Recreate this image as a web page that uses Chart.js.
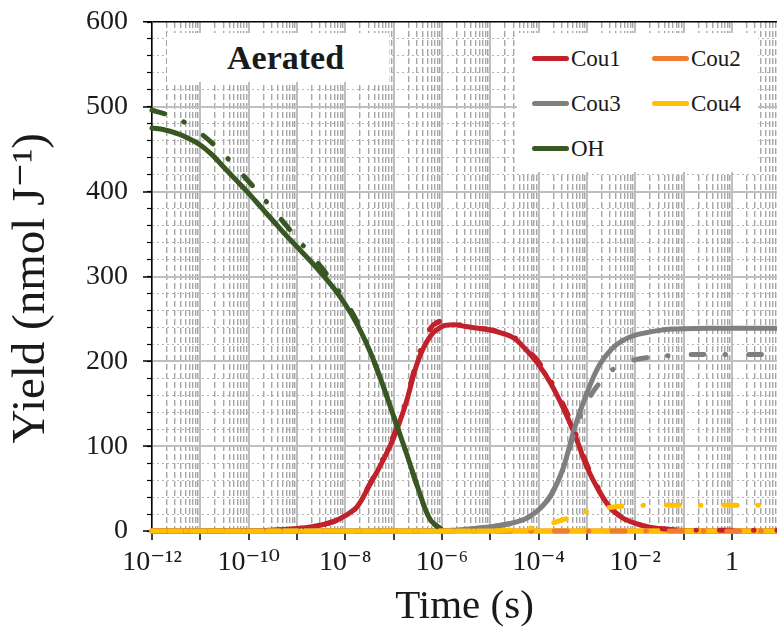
<!DOCTYPE html>
<html>
<head>
<meta charset="utf-8">
<script src="https://cdn.jsdelivr.net/npm/chart.js@4.4.1/dist/chart.umd.min.js"></script>
<style>
  html, body { margin: 0; padding: 0; background: #fff; }
  #wrap { position: relative; width: 777px; height: 634px; overflow: hidden; }
  #c { position: absolute; left: 0; top: 0; }
  .box { position: absolute; background: #fff; }
  #tag { left: 167px; top: 33px; width: 222px; height: 49px; }
  #tagText { position: absolute; left: 60px; top: 8px; font: bold 34px 'Liberation Serif', 'Times New Roman', serif; line-height: 34px; color: #1a1a1a; white-space: nowrap; }
  #legend { left: 517px; top: 33px; width: 241px; height: 139px; }
  .lg-line { position: absolute; height: 5px; width: 37px; border-radius: 3px; }
  .lg-text { position: absolute; font: 23px 'Liberation Serif', 'Times New Roman', serif; line-height: 23px; color: #1a1a1a; white-space: nowrap; }
</style>
</head>
<body>
<div id="wrap">
  <canvas id="c" width="777" height="634"></canvas>
  <div id="tag" class="box"><span id="tagText">Aerated</span></div>
  <div id="legend" class="box"></div>
</div>
<script>
// ---------------- data (time as log10 of seconds) ----------------
const ohTimeExp = [-12,-11.75,-11.5,-11.25,-11,-10.75,-10.5,-10.25,-10,-9.75,-9.5,-9.25,-9,-8.75,-8.5,-8.25,-8,-7.75,-7.5,-7.25,-7,-6.75,-6.5,-6.25,-6];
const ohSolid   = [475,473,469,463,455,443,428,413,398,382,366,350,335,320,304,287,267,243,213,176,135,94,51,14,1];
const ohDash    = [496,492,487,479,469,457,443,428,412,396,379,362,345,328,311,292,271,246,213,176,135,94,51,14,1];

const couTimeExp = [-12,-11,-10,-9.5,-9,-8.75,-8.5,-8.25,-8,-7.75,-7.5,-7.25,-7,-6.75,-6.5,-6.25,-6,-5.75,-5.5,-5.25,-5,-4.75,-4.5,-4.25,-4,-3.75,-3.5,-3.25,-3,-2.75,-2.5,-2.25,-2,-1.75,-1.5,-1.25,-1,-0.5,0,0.93];
const cou1Solid = [0,0,0.5,1,3, 4.5,7,11,18,29, 54,80,110,150,200, 229,241,243,241,239, 237,233,227,213,196, 174,146,113,75,47, 26,15,9,5,3, 1.5,0.5,0,0,0];
const cou1Dash  = [0,0,0.5,1,3, 4.5,7,11,18,29, 55,82,113,153,204, 238,248,245,241,239, 237,234,228,215,199, 177,150,117,78,49, 27,15,9,5,3, 1.5,1,0.8,0.8,0.8];
const cou3Solid = [0,0,0,0,0, 0,0,0,0,0, 0,0,0,0,0, 0.3,0.5,1,2,3.5, 5,7,10,15,25, 42,73,123,163,195, 214,225,231,234,236.5, 238,238.5,239,239,239];
const cou3Dash  = [0,0,0,0,0, 0,0,0,0,0, 0,0,0,0,0, 0.3,0.5,1,2,3.5, 5,7,10,15,25, 42,72,118,152,174, 189,197,202,204.5,206, 207,208,208,208,208];
const cou4Dash  = [0,0,0,0,0, 0,0,0,0,0, 0,0,0,0,0, 0,0,0,0,0, 0,0.5,1.5,3,5, 9,13,18,23,26, 28,29.5,30,30.3,30.5, 30.5,30.5,30.5,30.5,30.5];

const flatTimeExp = [-12, 0.93];
const cou2Solid = [0, 0];
const cou2Dash  = [0, 0];
const cou4Solid = [0, 0];

// ---------------- axis ticks ----------------
const xDecadeExps = [-12,-11,-10,-9,-8,-7,-6,-5,-4,-3,-2,-1,0];
const xTickLabels = ['10\u207B\u00B9\u00B2','','10\u207B\u00B9\u2070','','10\u207B\u2078','','10\u207B\u2076','','10\u207B\u2074','','10\u207B\u00B2','','1'];
const xMinExp = -12, xMaxExp = 0.93;
const yTickStep = 100, yMinorStep = 20, yMin = 0, yMax = 600;

const FONT = "'Liberation Serif', 'DejaVu Serif', 'Times New Roman', serif";
const C = { red: '#C0212B', orange: '#EE7D31', gray: '#7F7F7F', yellow: '#FFC000', green: '#385723' };
const DASHDOT = [13, 21, 0.5, 23];

function pts(tExp, vals) { return tExp.map((e, i) => ({ x: Math.pow(10, e), y: vals[i] })); }

function ds(label, color, tExp, vals, dashed, order, legend) {
  return {
    label, data: pts(tExp, vals), borderColor: color, backgroundColor: color,
    borderWidth: 5, pointRadius: 0, pointHoverRadius: 0, fill: false,
    tension: 0.35, borderCapStyle: 'round', borderJoinStyle: 'round',
    borderDash: dashed ? DASHDOT : [], order, clip: false, showInLegend: legend
  };
}

const datasets = [
  ds('Cou1', C.red,    couTimeExp,  cou1Solid, false, 9, true),
  ds('Cou2', C.orange, flatTimeExp, cou2Solid, false, 8, true),
  ds('Cou3', C.gray,   couTimeExp,  cou3Solid, false, 7, true),
  ds('Cou4', C.yellow, flatTimeExp, cou4Solid, false, 5, true),
  ds('OH',   C.green,  ohTimeExp,   ohSolid,   false, 6, true),
  ds('Cou1 (dash-dot)', C.red,    couTimeExp,  cou1Dash, true, 4, false),
  ds('Cou2 (dash-dot)', C.orange, flatTimeExp, cou2Dash, true, 1, false),
  ds('Cou3 (dash-dot)', C.gray,   couTimeExp,  cou3Dash, true, 3, false),
  ds('Cou4 (dash-dot)', C.yellow, couTimeExp,  cou4Dash, true, 0, false),
  ds('OH (dash-dot)',   C.green,  ohTimeExp,   ohDash,   true, 2, false)
];

const xMinorValues = [];
xDecadeExps.forEach(e => { for (let k = 2; k <= 9; k++) { const v = k * Math.pow(10, e); if (Math.log10(v) <= xMaxExp) xMinorValues.push(v); } });
const yMinorValues = [];
for (let v = yMin; v <= yMax; v += yMinorStep) yMinorValues.push(v);

const chart = new Chart(document.getElementById('c'), {
  type: 'line',
  data: { datasets },
  options: {
    responsive: false, animation: false, devicePixelRatio: 1,
    layout: { padding: { top: 22, right: 0, left: 0, bottom: 0 } },
    plugins: { legend: { display: false }, tooltip: { enabled: false } },
    scales: {
      x: {
        type: 'logarithmic', position: 'bottom', weight: 1, bounds: 'data',
        min: Math.pow(10, xMinExp), max: Math.pow(10, xMaxExp),
        afterBuildTicks: s => { s.ticks = xDecadeExps.map(e => ({ value: Math.pow(10, e) })); },
        afterFit: s => { s.height = 103; s.paddingRight = 0; },
        ticks: { autoSkip: false, maxRotation: 0, color: '#1a1a1a', padding: 6,
                 font: { family: FONT, size: 28 }, callback: (v, i) => xTickLabels[i] },
        grid: { color: '#BFBFBF', lineWidth: 2, tickLength: 9, tickColor: '#000', tickWidth: 1.5 },
        border: { display: true, color: '#BFBFBF', width: 1 },
        title: { display: true, text: 'Time (s)', color: '#1a1a1a', font: { family: FONT, size: 41 }, padding: { top: 0, bottom: 2 } }
      },
      x2: {
        type: 'logarithmic', position: 'bottom', weight: 0, bounds: 'data',
        min: Math.pow(10, xMinExp), max: Math.pow(10, xMaxExp),
        afterBuildTicks: s => { s.ticks = xMinorValues.map(v => ({ value: v })); },
        afterFit: s => { s.height = 0; s.paddingLeft = 0; s.paddingRight = 0; },
        ticks: { display: false },
        grid: { color: '#A6A6A6', lineWidth: 1.4, drawTicks: false },
        border: { display: false, dash: [6, 3] }
      },
      y: {
        type: 'linear', position: 'left', weight: 1, min: yMin, max: yMax,
        afterFit: s => { s.width = 152; s.paddingTop = 0; s.paddingBottom = 0; },
        ticks: { stepSize: yTickStep, color: '#1a1a1a', padding: 15, font: { family: FONT, size: 28 } },
        grid: { color: c => (c.tick && c.tick.value === yMax) ? '#000' : '#BFBFBF',
                lineWidth: c => (c.tick && c.tick.value === yMax) ? 1.5 : 2,
                tickLength: 9, tickColor: '#000', tickWidth: 1.5 },
        border: { display: true, color: '#000', width: 1.5 },
        title: { display: true, text: 'Yield (nmol J\u207B\u00B9)\u2002', color: '#1a1a1a', font: { family: FONT, size: 47 }, padding: { top: 3, bottom: 0 } }
      },
      y2: {
        type: 'linear', position: 'left', weight: 0, min: yMin, max: yMax,
        afterBuildTicks: s => { s.ticks = yMinorValues.map(v => ({ value: v })); },
        afterFit: s => { s.width = 0; s.paddingTop = 0; s.paddingBottom = 0; },
        ticks: { display: false },
        grid: { color: c => (c.tick && c.tick.value % yTickStep === 0) ? 'rgba(0,0,0,0)' : '#B3B3B3',
                lineWidth: 1, tickLength: 5, tickColor: '#000', tickWidth: 1.2 },
        border: { display: false, dash: [2, 3] }
      }
    }
  }
});

// ---------------- legend (HTML, built from the chart datasets) ----------------
const legendEl = document.getElementById('legend');
const legendLeft = 517, legendTop = 33;
const colX = [532, 652], rowY = [58, 103, 148];
chart.data.datasets.filter(d => d.showInLegend).forEach((d, i) => {
  const col = i % 2, row = Math.floor(i / 2);
  const line = document.createElement('div');
  line.className = 'lg-line';
  line.style.background = d.borderColor;
  line.style.left = (colX[col] - legendLeft) + 'px';
  line.style.top = (rowY[row] - 2.5 - legendTop) + 'px';
  legendEl.appendChild(line);
  const txt = document.createElement('span');
  txt.className = 'lg-text';
  txt.textContent = d.label;
  txt.style.left = (colX[col] + 39 - legendLeft) + 'px';
  txt.style.top = (rowY[row] - 11 - legendTop) + 'px';
  legendEl.appendChild(txt);
});
</script>
</body>
</html>
